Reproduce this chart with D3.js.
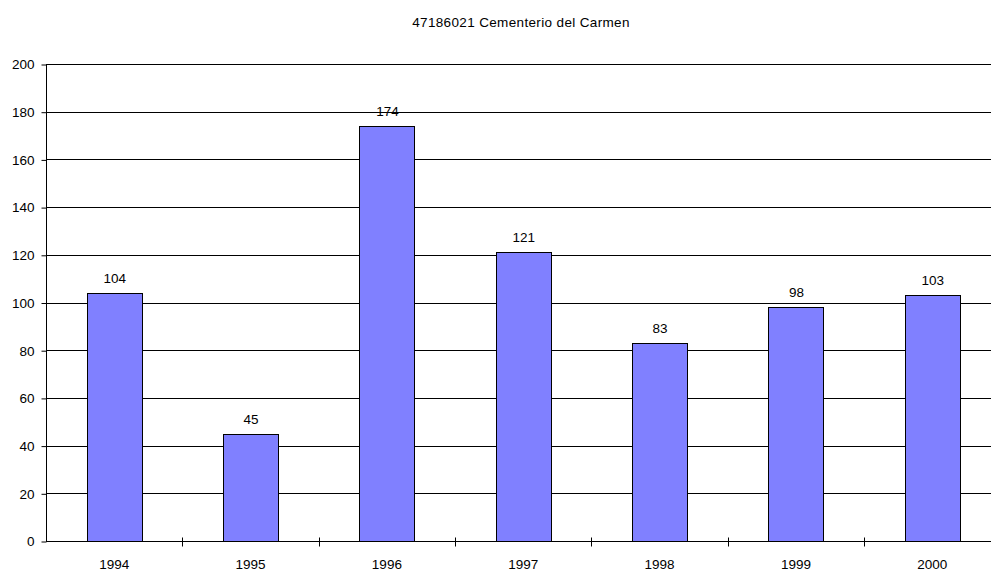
<!DOCTYPE html>
<html>
<head>
<meta charset="utf-8">
<script src="https://cdn.jsdelivr.net/npm/d3@7"></script>
<style>
  html, body { margin: 0; padding: 0; background: #fff; }
  svg { display: block; font-family: "Liberation Sans", Arial, sans-serif; }
</style>
</head>
<body>
<svg id="chart" width="991" height="571"></svg>
<script>
// Yearly counts for station 47186021
const years = ["1994", "1995", "1996", "1997", "1998", "1999", "2000"];
const values = [104, 45, 174, 121, 83, 98, 103];
const yTicks = [0, 20, 40, 60, 80, 100, 120, 140, 160, 180, 200];
const title = "47186021 Cementerio del Carmen";

const svg = d3.select("#chart");
const plotLeft = 46, plotRight = 1000.5, plotTop = 64, plotBottom = 541;
const fontSize = 13.5;

const band = d3.scaleBand().domain(years).range([plotLeft, plotRight]);
const y = d3.scaleLinear().domain([0, 200]).range([plotBottom, plotTop]);

// title
svg.append("text")
  .attr("x", 521).attr("y", 27)
  .attr("text-anchor", "middle")
  .attr("font-size", fontSize)
  .attr("letter-spacing", 0.35)
  .attr("fill", "#000")
  .text(title);

// horizontal gridlines
svg.append("g")
  .selectAll("line")
  .data(yTicks.filter(d => d > 0))
  .join("line")
  .attr("x1", plotLeft).attr("x2", plotRight)
  .attr("y1", d => Math.round(y(d)) + 0.5).attr("y2", d => Math.round(y(d)) + 0.5)
  .attr("stroke", "#000").attr("stroke-width", 1);

// bars
const barW = 55;
svg.append("g")
  .selectAll("rect")
  .data(values)
  .join("rect")
  .attr("x", (d, i) => Math.round(band(years[i]) + band.bandwidth() / 2 - barW / 2) + 0.5)
  .attr("y", d => Math.round(y(d)) + 0.5)
  .attr("width", barW)
  .attr("height", d => Math.round(y(0)) - Math.round(y(d)))
  .attr("fill", "#8080ff")
  .attr("stroke", "#000").attr("stroke-width", 1);

// value labels
svg.append("g")
  .selectAll("text")
  .data(values)
  .join("text")
  .attr("x", (d, i) => band(years[i]) + band.bandwidth() / 2 + 0.5)
  .attr("y", d => y(d) - 10)
  .attr("text-anchor", "middle")
  .attr("font-size", fontSize)
  .attr("fill", "#000")
  .text(d => d);

// y axis
const yAxis = d3.axisLeft(y).tickValues(yTicks).tickSize(5).tickPadding(7);
const gy = svg.append("g").attr("transform", `translate(${plotLeft + 0.5},0.5)`).call(yAxis);
gy.selectAll("text").attr("font-size", fontSize).attr("font-family", "Liberation Sans, Arial, sans-serif").attr("fill", "#000");
gy.selectAll("line,path").attr("stroke", "#000");
gy.select(".domain").attr("d", `M0,${plotTop - 0.5}V${plotBottom}`);

// x axis with ticks between categories
const gx = svg.append("g").attr("transform", `translate(0,${Math.round(plotBottom) + 0.5})`);
gx.append("line").attr("x1", plotLeft).attr("x2", plotRight).attr("stroke", "#000");
gx.selectAll("line.tick")
  .data(years.slice(1))
  .join("line")
  .attr("class", "tick")
  .attr("x1", d => Math.round(band(d)) + 0.5).attr("x2", d => Math.round(band(d)) + 0.5)
  .attr("y1", -4).attr("y2", 5)
  .attr("stroke", "#000");
gx.selectAll("text")
  .data(years)
  .join("text")
  .attr("x", d => band(d) + band.bandwidth() / 2)
  .attr("y", 27)
  .attr("text-anchor", "middle")
  .attr("font-size", fontSize)
  .attr("fill", "#000")
  .text(d => d);
</script>
</body>
</html>
